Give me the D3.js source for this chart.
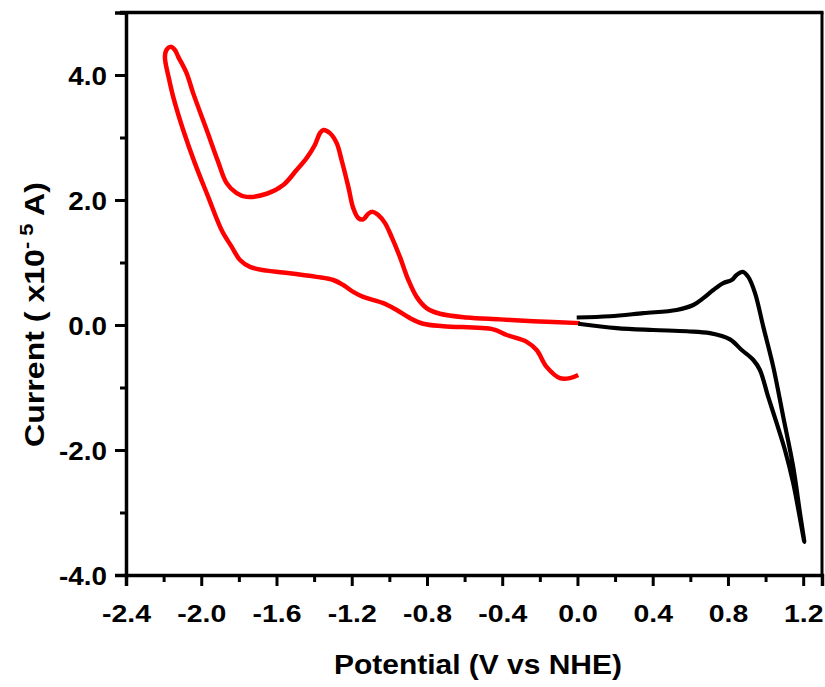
<!DOCTYPE html>
<html>
<head>
<meta charset="utf-8">
<style>
  body { margin: 0; background: #fff; }
  text { font-family: "Liberation Sans", Arial, sans-serif; font-weight: bold; fill: #000; }
</style>
</head>
<body>
<script src="https://cdn.jsdelivr.net/npm/d3@7/dist/d3.min.js"></script>
<script>
// tick values
var xMajor = [-2.4, -2.0, -1.6, -1.2, -0.8, -0.4, 0.0, 0.4, 0.8, 1.2];
var xMinor = [-2.2, -1.8, -1.4, -1.0, -0.6, -0.2, 0.2, 0.6, 1.0];
var yMajor = [-4, -2, 0, 2, 4];
var yMinor = [-3, -1, 1, 3, 5];

// red scan (potential V, current x1e-5 A), starts at 0 V going negative
var redV = [0.013, -0.235, -0.412, -0.589, -0.731, -0.802, -0.855, -0.899, -0.944, -0.988, -1.023, -1.059, -1.089, -1.112, -1.139, -1.165, -1.192, -1.218, -1.254, -1.280, -1.316, -1.351, -1.369, -1.396, -1.440, -1.493, -1.564, -1.652, -1.759, -1.812, -1.865, -1.910, -1.971, -2.043, -2.078, -2.122, -2.140, -2.163, -2.185, -2.193, -2.170, -2.149, -2.096, -2.034, -1.963, -1.892, -1.838, -1.794, -1.741, -1.652, -1.564, -1.387, -1.298, -1.245, -1.192, -1.139, -1.032, -0.961, -0.890, -0.820, -0.713, -0.448, -0.376, -0.270, -0.217, -0.164, -0.093, -0.040, 0.004];
var redI = [0.03, 0.06, 0.09, 0.12, 0.18, 0.27, 0.45, 0.72, 1.09, 1.41, 1.63, 1.76, 1.81, 1.78, 1.69, 1.71, 1.87, 2.21, 2.64, 2.91, 3.07, 3.12, 3.07, 2.88, 2.67, 2.48, 2.24, 2.10, 2.05, 2.11, 2.27, 2.61, 3.12, 3.71, 4.03, 4.29, 4.40, 4.45, 4.40, 4.28, 3.92, 3.65, 3.12, 2.59, 2.05, 1.52, 1.25, 1.04, 0.93, 0.87, 0.84, 0.77, 0.72, 0.64, 0.53, 0.45, 0.35, 0.24, 0.11, 0.02, -0.02, -0.07, -0.16, -0.27, -0.40, -0.67, -0.85, -0.85, -0.80];

// black scan, starts at 0 V going positive
var blackV = [0.004, 0.208, 0.403, 0.581, 0.704, 0.811, 0.873, 0.935, 0.970, 1.014, 1.059, 1.103, 1.147, 1.206, 1.183, 1.147, 1.094, 1.041, 0.988, 0.944, 0.908, 0.878, 0.846, 0.820, 0.775, 0.722, 0.669, 0.616, 0.527, 0.350, 0.173, -0.004];
var blackI = [0.02, -0.05, -0.08, -0.10, -0.13, -0.23, -0.40, -0.56, -0.72, -1.15, -1.57, -2.0, -2.53, -3.47, -3.01, -2.27, -1.47, -0.67, -0.03, 0.51, 0.77, 0.85, 0.80, 0.72, 0.67, 0.56, 0.43, 0.32, 0.24, 0.19, 0.14, 0.12];

var width = 825, height = 687;
var mLeft = 126, mRight = 822, mTop = 12.5, mBottom = 575;

var svg = d3.select("body").append("svg")
    .attr("width", width)
    .attr("height", height);

var x = d3.scaleLinear().domain([-2.4, 1.3]).range([mLeft, mRight]);
var y = d3.scaleLinear().domain([-4, 5]).range([mBottom, mTop]);

var fmt = function(d) { return d.toFixed(1); };

// frame top and right
svg.append("line")
    .attr("x1", mLeft - 6).attr("y1", mTop).attr("x2", mRight + 1.5).attr("y2", mTop)
    .attr("stroke", "#000").attr("stroke-width", 3.5);
svg.append("line")
    .attr("x1", mRight).attr("y1", mTop).attr("x2", mRight).attr("y2", mBottom)
    .attr("stroke", "#000").attr("stroke-width", 3);

// bottom axis
var xAxis = svg.append("g")
    .attr("transform", "translate(0," + mBottom + ")")
    .call(d3.axisBottom(x).tickValues(xMajor).tickSize(11).tickFormat(fmt));
svg.append("g")
    .attr("transform", "translate(0," + mBottom + ")")
    .call(d3.axisBottom(x).tickValues(xMinor).tickSize(7).tickFormat(""))
    .select(".domain").remove();

// left axis
var yAxis = svg.append("g")
    .attr("transform", "translate(" + mLeft + ",0)")
    .call(d3.axisLeft(y).tickValues(yMajor).tickSize(11).tickFormat(fmt));
svg.append("g")
    .attr("transform", "translate(" + mLeft + ",0)")
    .call(d3.axisLeft(y).tickValues(yMinor).tickSize(6).tickFormat(""))
    .select(".domain").remove();

svg.selectAll(".domain").attr("stroke-width", 3.5);
svg.selectAll(".tick line").attr("stroke-width", 3);

xAxis.selectAll(".tick text")
    .attr("font-size", 24.5)
    .attr("font-family", null)
    .attr("dy", "0.71em")
    .attr("y", 30)
    .attr("transform", "scale(1.16,1)");

yAxis.selectAll(".tick text")
    .attr("font-size", 26)
    .attr("font-family", null)
    .attr("dy", "0.36em")
    .attr("x", -19 / 1.07)
    .attr("transform", "scale(1.07,1)");

// curves
var line = d3.line()
    .x(function(d) { return x(d[0]); })
    .y(function(d) { return y(d[1]); })
    .curve(d3.curveCatmullRom.alpha(0.5));

svg.append("path")
    .datum(d3.zip(redV, redI))
    .attr("d", line)
    .attr("fill", "none")
    .attr("stroke", "#ff0000")
    .attr("stroke-width", 4.5)
    .attr("stroke-linejoin", "round");

svg.append("path")
    .datum(d3.zip(blackV, blackI))
    .attr("d", line)
    .attr("fill", "none")
    .attr("stroke", "#000")
    .attr("stroke-width", 4.2)
    .attr("stroke-linejoin", "round");

// axis titles
svg.append("text")
    .attr("transform", "translate(478,674) scale(1.07,1)")
    .attr("text-anchor", "middle")
    .attr("font-size", 28)
    .text("Potential (V vs NHE)");

var yTitle = svg.append("text")
    .attr("text-anchor", "middle")
    .attr("font-size", 28);
yTitle.append("tspan").text("Current ( x10");
yTitle.append("tspan").attr("dy", -11).attr("font-size", 19).text("- 5");
yTitle.append("tspan").attr("dy", 11).text(" A)");
var len = yTitle.node().getComputedTextLength();
yTitle.attr("transform", "translate(44,314.5) rotate(-90) scale(" + (265 / len) + ",1)");
</script>
</body>
</html>
